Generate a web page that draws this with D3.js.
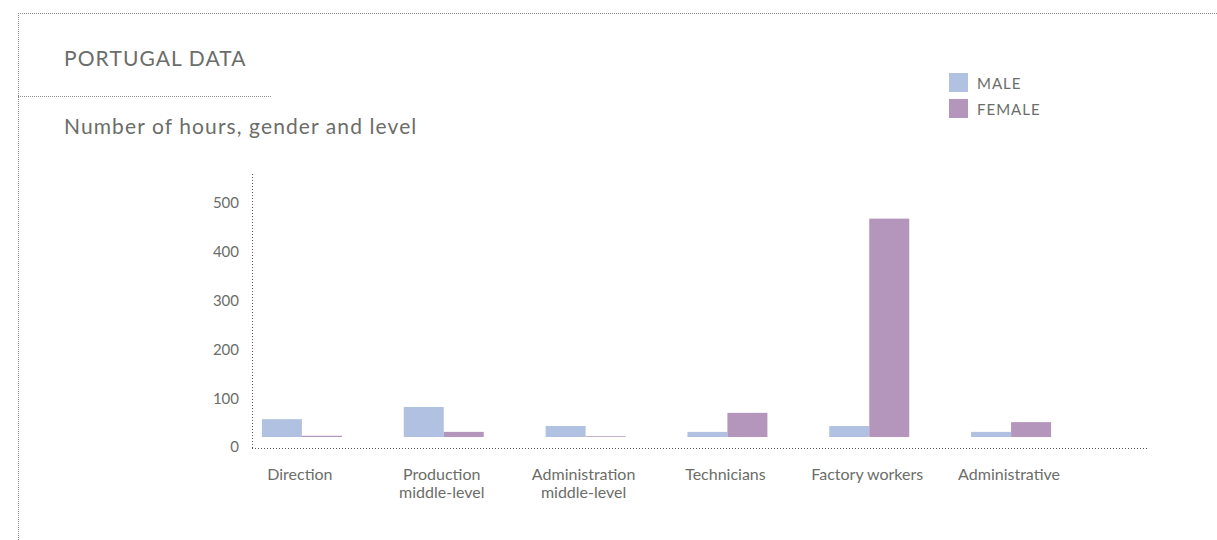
<!DOCTYPE html>
<html><head><meta charset="utf-8">
<script src="https://cdn.jsdelivr.net/npm/d3@7"></script>
<style>
html,body{margin:0;padding:0;background:#fff;}
svg{display:block;font-family:Lato,"Open Sans",sans-serif;}
</style></head>
<body>
<svg id="chart" width="1217" height="540"></svg>
<script>
const categories = [["Direction"],["Production","middle-level"],["Administration","middle-level"],["Technicians"],["Factory workers"],["Administrative"]];
const seriesNames = ["MALE","FEMALE"];
const maleValues = [57, 82, 43, 31, 43, 31];
const femaleValues = [23, 31, 22, 70, 468, 51];
const yTicks = [0,100,200,300,400,500];
const colors = ["#b0c1e1","#b496bc"];

const svg = d3.select("#chart");
const textColor = "#6b6d69";
const dotColor = "#8a8a8a";

// frame dotted lines
svg.append("line").attr("x1",18).attr("x2",1217).attr("y1",13.5).attr("y2",13.5)
  .attr("stroke",dotColor).attr("stroke-dasharray","1,1");
svg.append("line").attr("x1",18.5).attr("x2",18.5).attr("y1",13).attr("y2",540)
  .attr("stroke",dotColor).attr("stroke-dasharray","1,1");
svg.append("line").attr("x1",18).attr("x2",272).attr("y1",96.5).attr("y2",96.5)
  .attr("stroke",dotColor).attr("stroke-dasharray","1,1");

svg.append("text").attr("x",64).attr("y",66).text("PORTUGAL DATA")
  .attr("font-size",21).attr("letter-spacing","1.1px").attr("fill",textColor);
svg.append("text").attr("x",64).attr("y",134).text("Number of hours, gender and level")
  .attr("font-size",21).attr("letter-spacing","1.1px").attr("fill",textColor);

// legend
const leg = svg.append("g");
seriesNames.forEach((s,i)=>{
  leg.append("rect").attr("x",949).attr("y",73+i*26).attr("width",19).attr("height",19).attr("fill",colors[i]);
  leg.append("text").attr("x",977).attr("y",89+i*26).text(s).attr("font-size",15)
    .attr("letter-spacing","1px").attr("fill",textColor);
});

// scales
const y = d3.scaleLinear().domain([0,500]).range([447,203]);
const x0 = d3.scaleBand().domain(d3.range(categories.length)).range([231,1082]).paddingInner(0.436).paddingOuter(0.218);
const x1 = d3.scaleBand().domain([0,1]).range([0,x0.bandwidth()]);
const axisX = 252, axisBottom = 448.5;

// axes lines
svg.append("line").attr("x1",axisX+0.5).attr("x2",axisX+0.5).attr("y1",174).attr("y2",axisBottom)
  .attr("stroke","#555").attr("stroke-dasharray","1,2");
svg.append("line").attr("x1",axisX).attr("x2",1148).attr("y1",axisBottom).attr("y2",axisBottom)
  .attr("stroke","#555").attr("stroke-dasharray","1,2");

// y tick labels via axis
const yAxis = svg.append("g").attr("transform",`translate(${axisX},0)`)
  .call(d3.axisLeft(y).tickValues(yTicks).tickSize(0).tickPadding(13));
yAxis.select(".domain").remove();
yAxis.selectAll("text").attr("font-size",15).attr("fill",textColor).attr("font-family","Lato");

// bars
const offset = 10;
const vals = [maleValues, femaleValues];
const groups = svg.append("g").selectAll("g").data(categories).join("g")
  .attr("transform",(d,i)=>`translate(${x0(i)},0)`);
groups.selectAll("rect").data((d,i)=>vals.map((v,k)=>({k, v:v[i]}))).join("rect")
  .attr("x",d=>x1(d.k)).attr("width",x1.bandwidth())
  .attr("y",d=>y(d.v)).attr("height",d=>y(0)-offset-y(d.v))
  .attr("fill",d=>colors[d.k]);

// category labels
groups.append("text").attr("x",x0.bandwidth()/2-2).attr("text-anchor","middle")
  .attr("font-size",16).attr("fill",textColor)
  .selectAll("tspan").data(d=>d).join("tspan")
  .attr("x",x0.bandwidth()/2-2).attr("y",(d,i)=>480+i*18).text(d=>d);
</script>
</body></html>
